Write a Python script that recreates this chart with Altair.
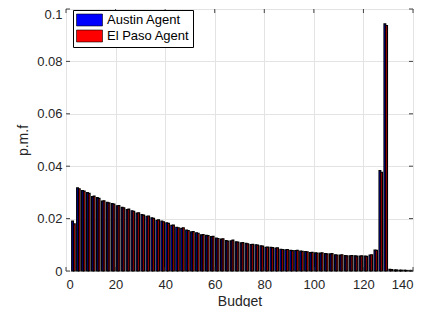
import altair as alt
import pandas as pd

budget = list(range(3, 140, 2))
austin = [0.0190, 0.0317, 0.0307, 0.0299, 0.0284, 0.0280, 0.0267, 0.0262, 0.0257, 0.0249,
          0.0243, 0.0234, 0.0230, 0.0221, 0.0215, 0.0209, 0.0203, 0.0193, 0.0190, 0.0184,
          0.0174, 0.0167, 0.0163, 0.0156, 0.0149, 0.0146, 0.0138, 0.0136, 0.0131, 0.0126,
          0.0122, 0.0116, 0.0115, 0.0111, 0.0107, 0.0106, 0.0101, 0.0100, 0.0096, 0.0090,
          0.0090, 0.0087, 0.0083, 0.0081, 0.0079, 0.0078, 0.0076, 0.0074, 0.0070, 0.0069,
          0.0068, 0.0066, 0.0065, 0.0062, 0.0061, 0.0059, 0.0058, 0.0058, 0.0057, 0.0057,
          0.0061, 0.0080, 0.0383, 0.0943, 0.0006, 0.0004, 0.0003, 0.0003, 0.0002]
elpaso = [0.0180, 0.0314, 0.0305, 0.0296, 0.0286, 0.0277, 0.0268, 0.0260, 0.0255, 0.0250,
          0.0241, 0.0236, 0.0228, 0.0222, 0.0213, 0.0210, 0.0201, 0.0195, 0.0188, 0.0182,
          0.0175, 0.0165, 0.0165, 0.0154, 0.0150, 0.0144, 0.0139, 0.0135, 0.0132, 0.0124,
          0.0123, 0.0114, 0.0118, 0.0110, 0.0108, 0.0104, 0.0102, 0.0099, 0.0095, 0.0091,
          0.0089, 0.0088, 0.0082, 0.0082, 0.0078, 0.0079, 0.0075, 0.0073, 0.0071, 0.0068,
          0.0069, 0.0065, 0.0066, 0.0061, 0.0062, 0.0058, 0.0059, 0.0057, 0.0058, 0.0056,
          0.0062, 0.0079, 0.0377, 0.0937, 0.0005, 0.0004, 0.0003, 0.0002, 0.0002]
series_names = ["Austin Agent", "El Paso Agent"]
series_colors = ["#0000ff", "#ff0000"]
x_ticks = [0, 20, 40, 60, 80, 100, 120, 140]
y_ticks = [0, 0.02, 0.04, 0.06, 0.08, 0.1]

rows = []
for b, a, e in zip(budget, austin, elpaso):
    rows.append({"budget": b, "series": series_names[0], "pmf": a, "side": -1})
    rows.append({"budget": b, "series": series_names[1], "pmf": e, "side": 1})
df = pd.DataFrame(rows)

W, H = 347, 262
FONT = "Liberation Sans"
TXT = "#262626"
xscale = alt.Scale(domain=[0, 140], nice=False, zero=False)
yscale = alt.Scale(domain=[0, 0.1], nice=False)
xaxis = alt.Axis(values=x_ticks, title="Budget", tickSize=0, domain=False,
                 labelPadding=7, titlePadding=3, grid=True)
yaxis = alt.Axis(values=y_ticks, title="p.m.f", format="~g", tickSize=0,
                 domain=False, labelPadding=4, titlePadding=6, grid=True,
                 labelBaseline={"condition": {"test": "datum.value >= 0.099", "value": "top"},
                                "value": "middle"},
                 labelOffset={"condition": {"test": "datum.value >= 0.099", "value": -1},
                              "value": 0})

bars = alt.Chart(df).transform_calculate(
    x0="datum.side < 0 ? datum.budget - 0.7 : datum.budget",
    x1="datum.side < 0 ? datum.budget : datum.budget + 0.7",
    base="0",
).mark_rect(stroke="black", strokeWidth=1.2).encode(
    x=alt.X("x0:Q", scale=xscale, axis=xaxis),
    x2="x1:Q",
    y=alt.Y("pmf:Q", scale=yscale, axis=yaxis),
    y2="base:Q",
    color=alt.Color("series:N", scale=alt.Scale(domain=series_names, range=series_colors),
                    legend=alt.Legend(orient="none", legendX=7, legendY=1, title=None,
                                      symbolType="M-1,-0.92L3,-0.92L3,0.92L-1,0.92Z",
                                      symbolSize=169, symbolStrokeColor="black",
                                      symbolStrokeWidth=0.6, symbolOpacity=1,
                                      labelFont=FONT, labelFontSize=13, labelColor="black",
                                      labelOffset=17, strokeColor="black", fillColor="white",
                                      padding=3, rowPadding=0, cornerRadius=0)),
)

yt = pd.DataFrame({"t": y_ticks})
xt = pd.DataFrame({"t": x_ticks})
tick_col = "#444444"
left_t = alt.Chart(yt).mark_rule(color=tick_col).encode(
    y=alt.Y("t:Q", scale=yscale, axis=yaxis), x=alt.value(0), x2=alt.value(4))
right_t = alt.Chart(yt).mark_rule(color=tick_col).encode(
    y=alt.Y("t:Q", scale=yscale, axis=yaxis), x=alt.value(W - 4), x2=alt.value(W))
bot_t = alt.Chart(xt).mark_rule(color=tick_col).encode(
    x=alt.X("t:Q", scale=xscale, axis=xaxis), y=alt.value(H - 4), y2=alt.value(H))
top_t = alt.Chart(xt).mark_rule(color=tick_col).encode(
    x=alt.X("t:Q", scale=xscale, axis=xaxis), y=alt.value(0), y2=alt.value(4))

chart = alt.layer(bars, left_t, right_t, bot_t, top_t).properties(
    width=W, height=H,
    autosize=alt.AutoSizeParams(type="none"),
    padding={"left": 58, "top": 1, "right": 21, "bottom": 36},
).configure_view(stroke="#555555", strokeWidth=1).configure_axis(
    gridColor="#e3e3e3", gridWidth=1, labelFont=FONT, labelFontSize=13, labelColor=TXT,
    titleFont=FONT, titleFontSize=14, titleFontWeight="normal", titleColor=TXT,
)

chart.save("out.html", embed_options={"renderer": "svg", "actions": False})
